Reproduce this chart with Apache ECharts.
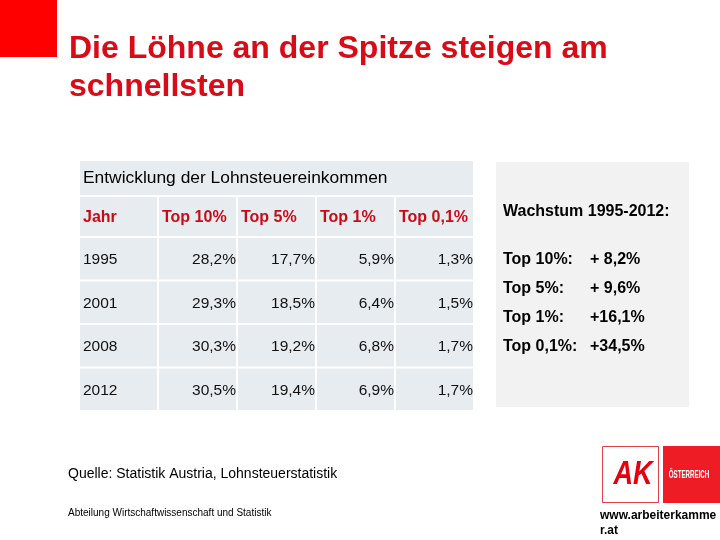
<!DOCTYPE html>
<html>
<head>
<meta charset="utf-8">
<script src="https://cdn.jsdelivr.net/npm/echarts@6/dist/echarts.min.js"></script>
<style>
html,body{margin:0;padding:0;background:#fff;}
#chart{width:720px;height:540px;}
</style>
</head>
<body>
<div id="chart"></div>
<script>
// ---- data ----
const columns = ['Jahr', 'Top 10%', 'Top 5%', 'Top 1%', 'Top 0,1%'];
const years = ['1995', '2001', '2008', '2012'];
const top10 = [28.2, 29.3, 30.3, 30.5];
const top5 = [17.7, 18.5, 19.2, 19.4];
const top1 = [5.9, 6.4, 6.8, 6.9];
const top01 = [1.3, 1.5, 1.7, 1.7];
const growthLabels = ['Top 10%:', 'Top 5%:', 'Top 1%:', 'Top 0,1%:'];
const growthValues = ['+ 8,2%', '+ 9,6%', '+16,1%', '+34,5%'];
const titleText = 'Die Löhne an der Spitze steigen am\nschnellsten';
const tableTitle = 'Entwicklung der Lohnsteuereinkommen';
const growthTitle = 'Wachstum 1995-2012:';
const sourceText = 'Quelle: Statistik Austria, Lohnsteuerstatistik';
const deptText = 'Abteilung Wirtschaftwissenschaft und Statistik';

// ---- build ----
const FONT = '"Liberation Sans", Arial, sans-serif';
const fmt = v => v.toFixed(1).replace('.', ',') + '%';
const seriesCols = [top10, top5, top1, top01];

const bodyData = [];
years.forEach((y, r) => {
  bodyData.push([0, r, y]);
  seriesCols.forEach((col, c) => bodyData.push([c + 1, r, fmt(col[r])]));
});
const headData = columns.map((c, i) => [i, 0, c]);

const CELL_BG = '#e7ecf0';

function makeRender(isHeader) {
  return function (params, api) {
    const c = api.value(0), r = api.value(1);
    const txt = (isHeader ? headData : bodyData)[params.dataIndex][2];
    const p = api.coord([c, r]);
    const s = api.size([1, 1]);
    const x0 = p[0] - s[0] / 2, y0 = p[1] - s[1] / 2;
    const w = s[0] - 2, h = s[1] - 2;
    const rightAlign = !isHeader && c > 0;
    return {
      type: 'group',
      children: [
        { type: 'rect', shape: { x: x0, y: y0, width: w, height: h }, style: { fill: CELL_BG } },
        {
          type: 'text',
          style: {
            text: txt,
            x: rightAlign ? x0 + w : x0 + 3,
            y: y0 + h / 2 + 1,
            align: rightAlign ? 'right' : 'left',
            verticalAlign: 'middle',
            fill: isHeader ? '#cc0a14' : '#111',
            font: (isHeader ? 'bold 16px ' : '15.5px ') + FONT
          }
        }
      ]
    };
  };
}

const graphics = [
  { type: 'rect', shape: { x: 0, y: 0, width: 57, height: 57 }, style: { fill: '#ff0000' } },
  { type: 'text', x: 69, y: 30, style: { text: titleText, font: 'bold 32px ' + FONT, fill: '#da0a16', lineHeight: 38, verticalAlign: 'top' } },
  // table title row
  { type: 'rect', shape: { x: 80, y: 161, width: 393, height: 34 }, style: { fill: CELL_BG } },
  { type: 'text', x: 83, y: 178, style: { text: tableTitle, font: '17.4px ' + FONT, fill: '#000', verticalAlign: 'middle' } },
  // right panel
  { type: 'rect', shape: { x: 496, y: 162, width: 193, height: 245 }, style: { fill: '#f2f2f2' } },
  { type: 'text', x: 503, y: 212, style: { text: growthTitle, font: 'bold 16px ' + FONT, fill: '#000', verticalAlign: 'middle' } },
  // footer
  { type: 'text', x: 68, y: 474, style: { text: sourceText, font: '14px ' + FONT, fill: '#000', verticalAlign: 'middle' } },
  { type: 'text', x: 68, y: 513, style: { text: deptText, font: '10px ' + FONT, fill: '#000', verticalAlign: 'middle' } },
  // logo
  { type: 'rect', shape: { x: 602.5, y: 446.5, width: 56, height: 56 }, style: { fill: '#fff', stroke: '#e0404a', lineWidth: 1 } },
  { type: 'text', x: 633, y: 475, scaleX: 0.82, style: { text: 'AK', font: 'italic bold 33px ' + FONT, fill: '#e3000f', align: 'center', verticalAlign: 'middle' } },
  { type: 'rect', shape: { x: 663, y: 446, width: 57, height: 57 }, style: { fill: '#ee1c25' } },
  { type: 'text', x: 689, y: 475, scaleX: 0.62, style: { text: 'ÖSTERREICH', font: 'bold 10px ' + FONT, fill: '#fff', align: 'center', verticalAlign: 'middle' } },
  { type: 'text', x: 600, y: 508, style: { text: 'www.arbeiterkamme\nr.at', font: 'bold 12px ' + FONT, fill: '#000', lineHeight: 15, verticalAlign: 'top' } }
];
growthLabels.forEach((lab, i) => {
  const y = 260 + i * 29;
  graphics.push({ type: 'text', x: 503, y: y, style: { text: lab, font: 'bold 16px ' + FONT, fill: '#000', verticalAlign: 'middle' } });
  graphics.push({ type: 'text', x: 590, y: y, style: { text: growthValues[i], font: 'bold 16px ' + FONT, fill: '#000', verticalAlign: 'middle' } });
});

const chart = echarts.init(document.getElementById('chart'), null, { renderer: 'canvas' });
chart.setOption({
  animation: false,
  backgroundColor: '#fff',
  grid: [
    { left: 80, top: 238, width: 395, height: 174 },
    { left: 80, top: 197, width: 395, height: 41 }
  ],
  xAxis: [
    { type: 'category', gridIndex: 0, data: columns, show: false },
    { type: 'category', gridIndex: 1, data: columns, show: false }
  ],
  yAxis: [
    { type: 'category', gridIndex: 0, data: years, inverse: true, show: false },
    { type: 'category', gridIndex: 1, data: ['head'], show: false }
  ],
  series: [
    { type: 'custom', xAxisIndex: 0, yAxisIndex: 0, data: bodyData.map(d => [d[0], d[1]]), renderItem: makeRender(false), silent: true },
    { type: 'custom', xAxisIndex: 1, yAxisIndex: 1, data: headData.map(d => [d[0], d[1]]), renderItem: makeRender(true), silent: true }
  ],
  graphic: graphics
});
</script>
</body>
</html>
